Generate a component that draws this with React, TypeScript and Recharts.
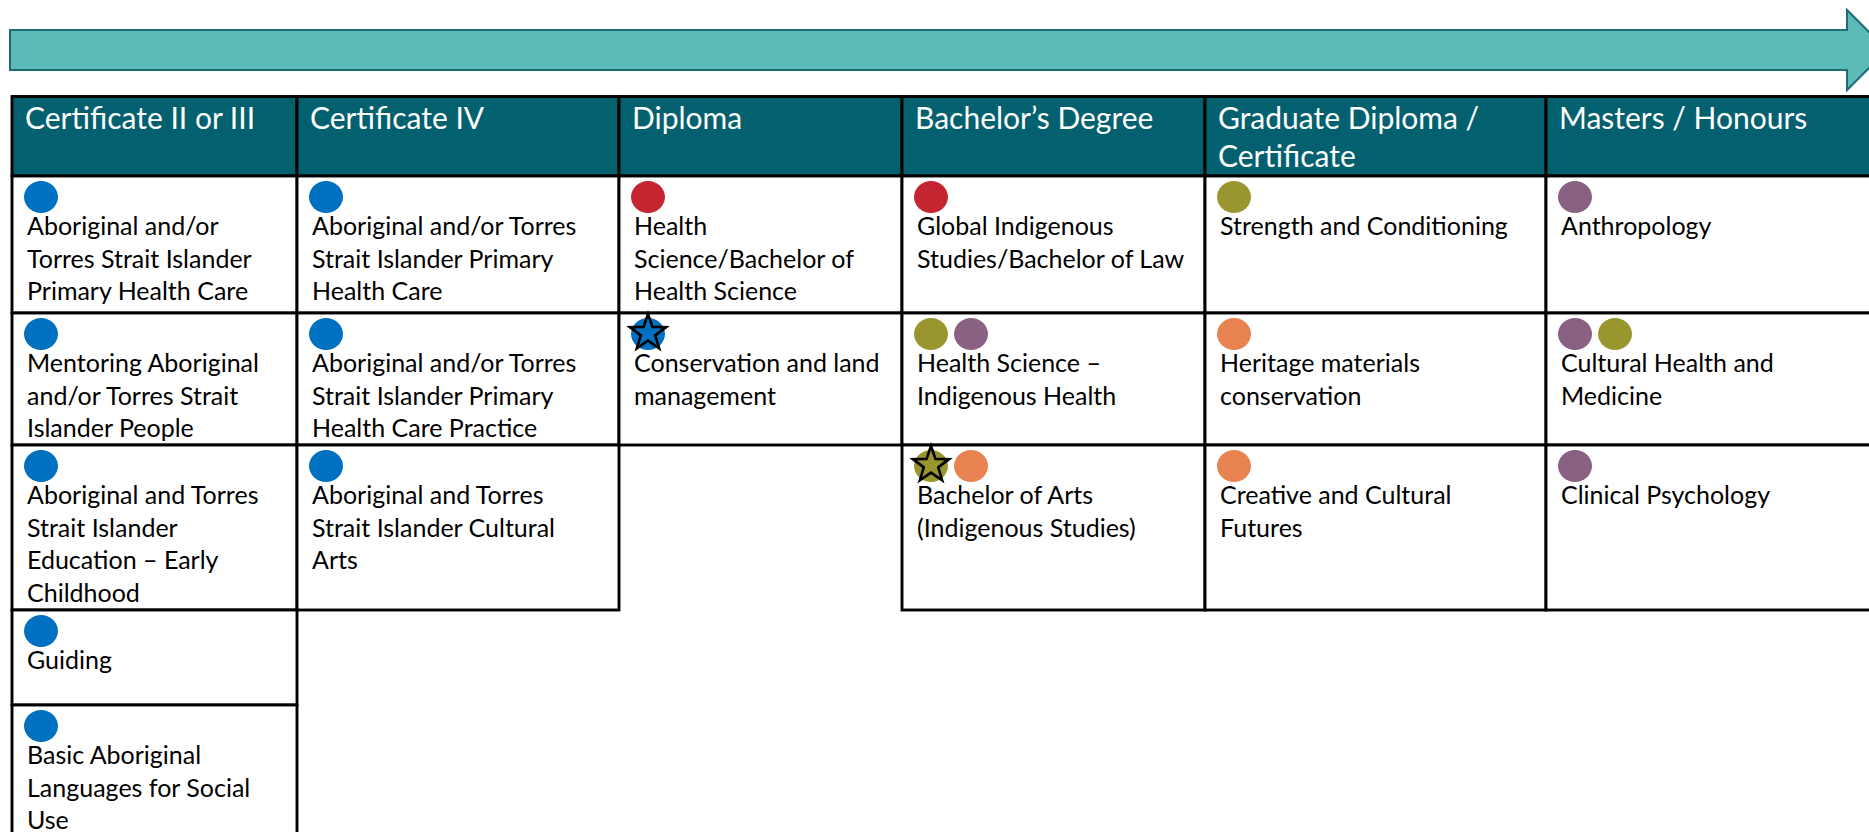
import React from "react";
import { ComposedChart, XAxis, YAxis, Scatter, ReferenceArea } from "recharts";

// ---------- DATA ----------
const levels: string[] = [
  "Certificate II or III",
  "Certificate IV",
  "Diploma",
  "Bachelor’s Degree",
  "Graduate Diploma /\nCertificate",
  "Masters / Honours",
];

type Tag = { c: string; star?: boolean };
type Course = { name: string; tags: Tag[] } | null;

const certIIorIII: Course[] = [
  { name: "Aboriginal and/or\nTorres Strait Islander\nPrimary Health Care", tags: [{ c: "blue" }] },
  { name: "Mentoring Aboriginal\nand/or Torres Strait\nIslander People", tags: [{ c: "blue" }] },
  { name: "Aboriginal and Torres\nStrait Islander\nEducation – Early\nChildhood", tags: [{ c: "blue" }] },
  { name: "Guiding", tags: [{ c: "blue" }] },
  { name: "Basic Aboriginal\nLanguages for Social\nUse", tags: [{ c: "blue" }] },
];
const certIV: Course[] = [
  { name: "Aboriginal and/or Torres\nStrait Islander Primary\nHealth Care", tags: [{ c: "blue" }] },
  { name: "Aboriginal and/or Torres\nStrait Islander Primary\nHealth Care Practice", tags: [{ c: "blue" }] },
  { name: "Aboriginal and Torres\nStrait Islander Cultural\nArts", tags: [{ c: "blue" }] },
];
const diploma: Course[] = [
  { name: "Health\nScience/Bachelor of\nHealth Science", tags: [{ c: "red" }] },
  { name: "Conservation and land\nmanagement", tags: [{ c: "blue", star: true }] },
  null,
];
const bachelor: Course[] = [
  { name: "Global Indigenous\nStudies/Bachelor of Law", tags: [{ c: "red" }] },
  { name: "Health Science –\nIndigenous Health", tags: [{ c: "olive" }, { c: "purple" }] },
  { name: "Bachelor of Arts\n(Indigenous Studies)", tags: [{ c: "olive", star: true }, { c: "orange" }] },
];
const graduate: Course[] = [
  { name: "Strength and Conditioning", tags: [{ c: "olive" }] },
  { name: "Heritage materials\nconservation", tags: [{ c: "orange" }] },
  { name: "Creative and Cultural\nFutures", tags: [{ c: "orange" }] },
];
const masters: Course[] = [
  { name: "Anthropology", tags: [{ c: "purple" }] },
  { name: "Cultural Health and\nMedicine", tags: [{ c: "purple" }, { c: "olive" }] },
  { name: "Clinical Psychology", tags: [{ c: "purple" }] },
];
const coursesByLevel: Course[][] = [certIIorIII, certIV, diploma, bachelor, graduate, masters];

// ---------- STYLE / LAYOUT ----------
const W = 1869;
const H = 832;
const tagColors: Record<string, string> = {
  blue: "#0070C0",
  red: "#C4252F",
  olive: "#9A962F",
  purple: "#896182",
  orange: "#E98251",
};
const HEADER_FILL = "#03606E";
const ARROW_FILL = "#5CBBB7";
const ARROW_STROKE = "#1D6C76";
const FONT = "Lato, 'Open Sans', sans-serif";
const colEdges = [12, 297, 619, 902, 1205, 1546, 1900];
const headerTop = 96.5;
const rowEdges = [176, 313, 445, 610, 705, 900];
const arrowBox = { x1: 10, x2: 1847, y1: 30, y2: 70, headOut: 20, headLen: 40 };
const BODY_SIZE = 25;
const HEAD_SIZE = 30;
const LINE = 32.5;
const HEAD_LINE = 38;
const TEXT_PAD = 15;
const TEXT_BASE = 59;
const HEAD_BASE = 32;
const DOT_DX = 29;
const DOT_DY = 21;
const DOT_GAP = 40;
const GRID_W = 2.9;

// dots built from the course tags
const dots = coursesByLevel.flatMap((list, col) =>
  list.flatMap((course, row) =>
    course
      ? course.tags.map((t, i) => ({
          x: colEdges[col] + DOT_DX + i * DOT_GAP,
          y: rowEdges[row] + DOT_DY,
          color: tagColors[t.c],
          star: !!t.star,
        }))
      : []
  )
);

function starPoints(cx: number, cy: number, R: number, r: number) {
  const pts: string[] = [];
  for (let i = 0; i < 10; i++) {
    const rad = i % 2 === 0 ? R : r;
    const a = -Math.PI / 2 + (i * Math.PI) / 5;
    pts.push(`${cx + rad * Math.cos(a)},${cy + rad * Math.sin(a)}`);
  }
  return pts.join(" ");
}

const DotShape = (props: any) => {
  const { cx, cy, payload } = props;
  if (cx == null || cy == null) return null;
  return (
    <g>
      <ellipse cx={cx} cy={cy} rx={17} ry={16} fill={payload.color} />
      {payload.star && (
        <polygon
          points={starPoints(cx, cy - 1, 19, 7.6)}
          fill="none"
          stroke="#000"
          strokeWidth={2.6}
          strokeLinejoin="miter"
        />
      )}
    </g>
  );
};

const CellBox = (props: any) => {
  const { x, y, width, height, lines, header } = props;
  if (x == null) return null;
  return (
    <g>
      <rect
        x={x}
        y={y}
        width={width}
        height={height}
        fill={header ? HEADER_FILL : "#fff"}
        stroke="#000"
        strokeWidth={GRID_W}
      />
      {lines && (
        <text
          fontFamily={FONT}
          fontSize={header ? HEAD_SIZE : BODY_SIZE}
          fill={header ? "#fff" : "#000"}
        >
          {(lines as string[]).map((l, i) => (
            <tspan
              key={i}
              x={x + (header ? 13 : TEXT_PAD)}
              y={y + (header ? HEAD_BASE : TEXT_BASE) + i * (header ? HEAD_LINE : LINE)}
            >
              {l}
            </tspan>
          ))}
        </text>
      )}
    </g>
  );
};

const ArrowShape = (props: any) => {
  const { x, y, width, height } = props;
  if (x == null) return null;
  const { headOut, headLen } = arrowBox;
  const pts = [
    [x, y],
    [x + width, y],
    [x + width, y - headOut],
    [x + width + headLen, y + height / 2],
    [x + width, y + height + headOut],
    [x + width, y + height],
    [x, y + height],
  ]
    .map((p) => p.join(","))
    .join(" ");
  return <polygon points={pts} fill={ARROW_FILL} stroke={ARROW_STROKE} strokeWidth={2} />;
};

export default function App() {
  return (
    <div style={{ position: "absolute", left: 0, top: 0, width: W, height: H, background: "#fff" }}>
      <ComposedChart width={W} height={H} margin={{ top: 0, right: 0, bottom: 0, left: 0 }}>
        <XAxis type="number" dataKey="x" domain={[0, W]} ticks={[0, W]} allowDataOverflow hide />
        <YAxis type="number" dataKey="y" domain={[0, H]} ticks={[0, H]} allowDataOverflow reversed hide />

        <ReferenceArea
          x1={arrowBox.x1}
          x2={arrowBox.x2}
          y1={arrowBox.y1}
          y2={arrowBox.y2}
          ifOverflow="visible"
          shape={(p: any) => <ArrowShape {...p} />}
        />

        {levels.map((lv, col) => (
          <ReferenceArea
            key={"h" + col}
            x1={colEdges[col]}
            x2={colEdges[col + 1]}
            y1={headerTop}
            y2={rowEdges[0]}
            ifOverflow="visible"
            shape={(p: any) => <CellBox {...p} header lines={lv.split("\n")} />}
          />
        ))}

        {coursesByLevel.map((list, col) =>
          list.map((course, row) =>
            course ? (
              <ReferenceArea
                key={`c${col}-${row}`}
                x1={colEdges[col]}
                x2={colEdges[col + 1]}
                y1={rowEdges[row]}
                y2={rowEdges[row + 1]}
                ifOverflow="visible"
                shape={(p: any) => <CellBox {...p} lines={course.name.split("\n")} />}
              />
            ) : null
          )
        )}

        <Scatter data={dots} dataKey="y" isAnimationActive={false} shape={DotShape} />
      </ComposedChart>
    </div>
  );
}
